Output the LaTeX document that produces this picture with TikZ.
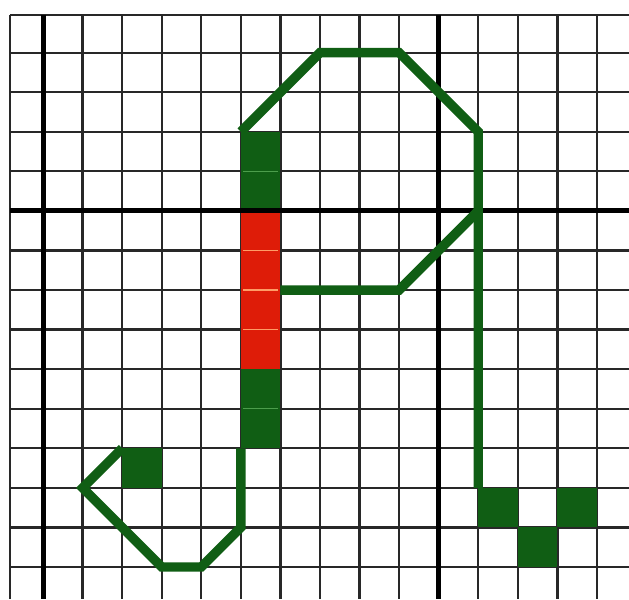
\documentclass[tikz,border=0pt]{standalone}
\usetikzlibrary{calc}
\definecolor{pathgreen}{RGB}{16,94,20}
\definecolor{cellred}{RGB}{222,28,8}
\definecolor{gridgray}{RGB}{40,40,40}
\tikzset{
  thinline/.style={draw=gridgray, line width=1.6pt},
  thickline/.style={draw=black, line width=3.6pt},
  greencell/.style={fill=pathgreen},
  redcell/.style={fill=cellred},
  stroke/.style={draw=pathgreen, line width=6.8pt, line join=miter, line cap=butt},
  sepred/.style={draw=orange!70!red!60, line width=0.9pt},
  sepgreen/.style={draw=green!45!black!70, line width=0.9pt}
}
\begin{document}
\begin{tikzpicture}[x=1cm,y=1cm]
\useasboundingbox (-1.087,-9.82) rectangle (14.81,5.33);
% thin grid
\foreach \i in {1,...,9,11,12,13,14} \draw[thinline] (\i,4.95) -- (\i,-9.82);
\foreach \j in {-4,...,-1,1,2,...,9} \draw[thinline] (-0.834,-\j) -- (14.81,-\j);
\draw[thinline] (-0.834,4.95) -- (-0.834,-9.82);
\draw[thinline] (-0.834,4.95) -- (14.81,4.95);
% column cells
\fill[greencell] (5,2) rectangle (6,0);
\fill[redcell] (5,0) rectangle (6,-4);
\fill[greencell] (5,-4) rectangle (6,-6);
\foreach \y in {-1,-2,-3} \draw[sepred] (5.05,\y) -- (5.95,\y);
\foreach \y in {1,-5} \draw[sepgreen] (5.05,\y) -- (5.95,\y);
% other green cells
\fill[greencell] (2,-6) rectangle (3,-7);
\fill[greencell] (11,-7) rectangle (12,-8);
\fill[greencell] (12,-8) rectangle (13,-9);
\fill[greencell] (13,-7) rectangle (14,-8);
% thick axes
\draw[thickline] (0,4.95) -- (0,-9.82);
\draw[thickline] (10,4.95) -- (10,-9.82);
\draw[thickline] (-0.834,0) -- (14.81,0);
% path vertices
\coordinate (a) at (5,2);
\coordinate (b) at (7,4);
\coordinate (c) at (9,4);
\coordinate (d) at (11,2);
\coordinate (e) at (11,0);
\coordinate (f) at (11,-7);
\coordinate (g) at (9,-2);
\coordinate (h) at (6,-2);
\coordinate (p) at (5,-6);
\coordinate (q) at (5,-8);
\coordinate (r) at (4,-9);
\coordinate (s) at (3,-9);
\coordinate (t) at (1,-7);
\coordinate (u) at (2,-6);
% green strokes
\draw[stroke] (a) -- (b) -- (c) -- (d) -- (e) -- (f);
\draw[stroke] (e) -- (g) -- (h);
\draw[stroke] (p) -- (q) -- (r) -- (s) -- (t) -- (u);
\end{tikzpicture}
\end{document}
